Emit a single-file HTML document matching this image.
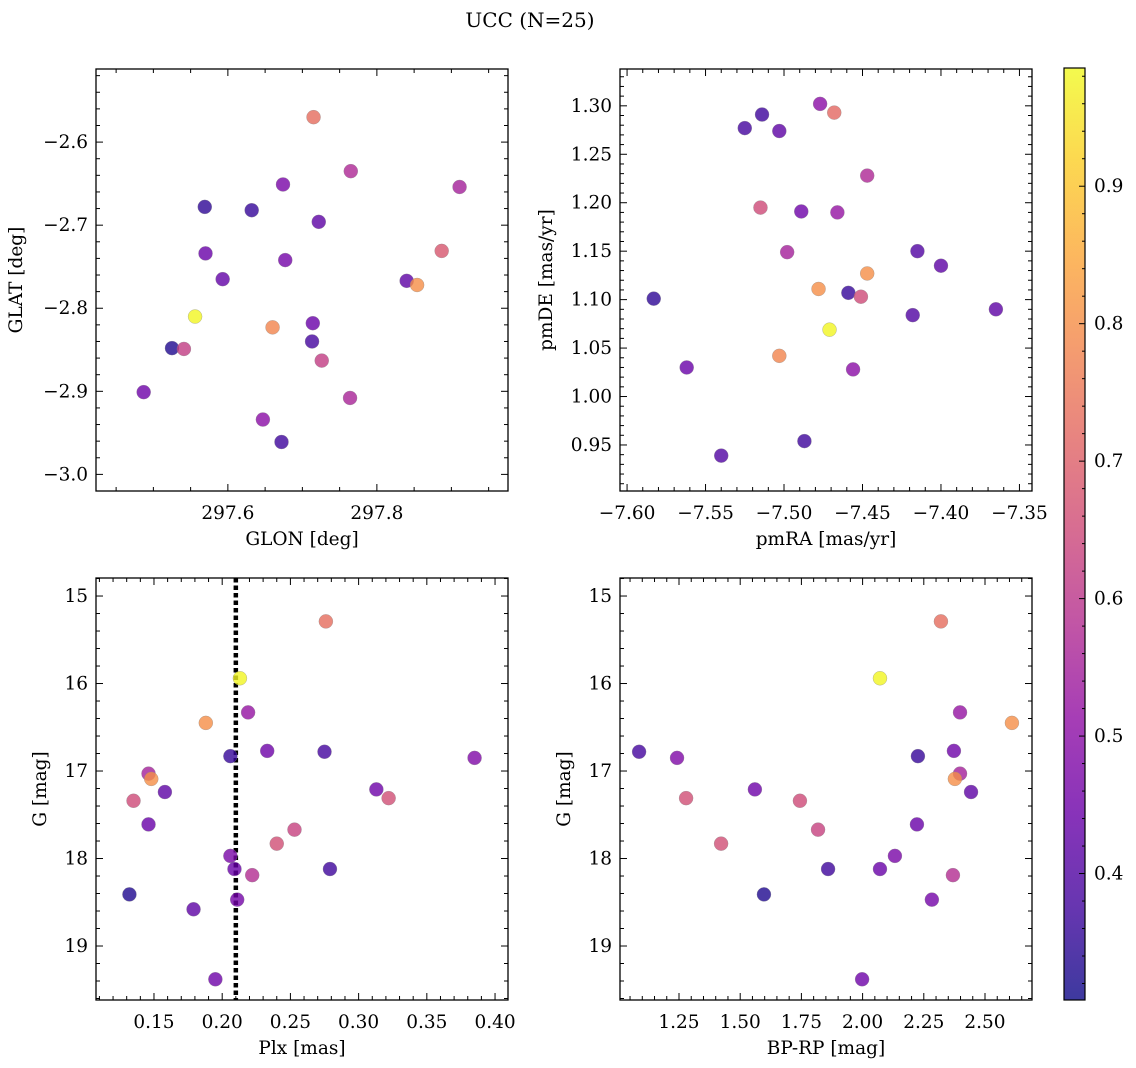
<!DOCTYPE html>
<html><head><meta charset="utf-8"><style>
body{margin:0;background:#fff}
svg{display:block;font-family:"DejaVu Serif","Liberation Serif",serif}
</style></head><body>
<svg id="fig" width="1136" height="1068" viewBox="0 0 1136 1068" xmlns="http://www.w3.org/2000/svg">
<defs>
<linearGradient id="plasma" x1="0" y1="1" x2="0" y2="0">
<stop offset="0" stop-color="#0d0887"/><stop offset="0.1" stop-color="#41049d"/><stop offset="0.2" stop-color="#6a00a8"/><stop offset="0.3" stop-color="#8f0da4"/><stop offset="0.4" stop-color="#b12a90"/><stop offset="0.5" stop-color="#cc4778"/><stop offset="0.6" stop-color="#e16462"/><stop offset="0.7" stop-color="#f2844b"/><stop offset="0.8" stop-color="#fca636"/><stop offset="0.9" stop-color="#fcce25"/><stop offset="1" stop-color="#f0f921"/>
</linearGradient>
</defs>
<text x="530" y="27" text-anchor="middle" font-size="20">UCC (N=25)</text>
</svg>
<script>
// ---- data ----
const glon = [297.715,297.765,297.911,297.674,297.569,297.632,297.722,297.570,297.677,297.593,297.887,297.840,297.854,297.556,297.660,297.714,297.525,297.541,297.713,297.726,297.487,297.764,297.647,297.672];
const glat = [-2.570,-2.635,-2.654,-2.651,-2.678,-2.682,-2.696,-2.734,-2.742,-2.765,-2.731,-2.767,-2.772,-2.810,-2.823,-2.818,-2.848,-2.849,-2.840,-2.863,-2.901,-2.908,-2.934,-2.961];
const probA = [0.73,0.57,0.55,0.47,0.35,0.36,0.42,0.44,0.46,0.43,0.68,0.42,0.80,0.98,0.78,0.44,0.33,0.62,0.38,0.62,0.45,0.56,0.50,0.37];
const pmra = [-7.477,-7.468,-7.525,-7.514,-7.503,-7.447,-7.515,-7.489,-7.466,-7.498,-7.415,-7.400,-7.447,-7.478,-7.459,-7.451,-7.583,-7.365,-7.418,-7.471,-7.503,-7.562,-7.456,-7.487,-7.540];
const pmde = [1.302,1.293,1.277,1.291,1.274,1.228,1.195,1.191,1.190,1.149,1.150,1.135,1.127,1.111,1.107,1.103,1.101,1.090,1.084,1.069,1.042,1.030,1.028,0.954,0.939];
const probB = [0.50,0.72,0.38,0.37,0.42,0.57,0.65,0.45,0.52,0.55,0.40,0.42,0.80,0.80,0.36,0.65,0.35,0.42,0.40,0.98,0.78,0.44,0.50,0.37,0.40];
const plx = [0.276,0.213,0.188,0.219,0.206,0.233,0.275,0.385,0.146,0.148,0.158,0.313,0.322,0.135,0.146,0.253,0.240,0.206,0.209,0.279,0.222,0.132,0.211,0.179,0.195];
const gmag = [15.29,15.94,16.45,16.33,16.83,16.77,16.78,16.85,17.03,17.09,17.24,17.21,17.31,17.34,17.61,17.67,17.83,17.97,18.12,18.12,18.19,18.41,18.47,18.58,19.38];
const probC = [0.73,0.98,0.80,0.52,0.36,0.45,0.38,0.48,0.55,0.80,0.42,0.45,0.66,0.65,0.44,0.63,0.66,0.47,0.44,0.37,0.58,0.33,0.46,0.42,0.45];
const bprp = [2.320,2.071,2.610,2.398,2.226,2.373,1.087,1.242,2.398,2.377,2.443,1.560,1.279,1.744,2.222,1.818,1.422,2.132,2.071,1.859,2.369,1.597,2.283,1.998];
const gmag4 = [15.29,15.94,16.45,16.33,16.83,16.77,16.78,16.85,17.03,17.09,17.24,17.21,17.31,17.34,17.61,17.67,17.83,17.97,18.12,18.12,18.19,18.41,18.47,19.38];
const probD = [0.73,0.98,0.80,0.52,0.36,0.45,0.38,0.48,0.55,0.80,0.42,0.45,0.66,0.65,0.44,0.63,0.66,0.47,0.44,0.37,0.58,0.33,0.46,0.45];
const plxLine = [0.210];
const cbTicks = [0.4,0.5,0.6,0.7,0.8,0.9];
const cMin = 0.308, cMax = 0.986;

const NS="http://www.w3.org/2000/svg";
const svg=document.getElementById('fig');
const FS=18.5;
function mk(tag,attrs,parent){const e=document.createElementNS(NS,tag);for(const k in attrs)e.setAttribute(k,attrs[k]);(parent||svg).appendChild(e);return e;}
const stops=[[13,8,135],[65,4,157],[106,0,168],[143,13,164],[177,42,144],[204,71,120],[225,100,98],[242,132,75],[252,166,54],[252,206,37],[240,249,33]];
function plasma(v){let t=(v-cMin)/(cMax-cMin);t=Math.max(0,Math.min(1,t));const f=t*10,i=Math.min(9,Math.floor(f)),r=f-i;const a=stops[i],b=stops[i+1];return 'rgb('+[0,1,2].map(k=>Math.round(a[k]+(b[k]-a[k])*r)).join(',')+')';}
function fmt(v,d){const s=Math.abs(v).toFixed(d);return (v<-1e-9?'\u2212':'')+s;}

function panel(o){
  const g=mk('g',{});
  
  
  const sx=v=>o.x0+(v-o.xmin)/(o.xmax-o.xmin)*(o.x1-o.x0);
  const sy=o.yinv?(v=>o.y0+(v-o.ymin)/(o.ymax-o.ymin)*(o.y1-o.y0)):(v=>o.y1-(v-o.ymin)/(o.ymax-o.ymin)*(o.y1-o.y0));
  const tk=mk('g',{stroke:'#000','stroke-width':1},g);
  
  
  for(let v=Math.ceil(o.xmin/o.xminor-1e-6)*o.xminor;v<=o.xmax+1e-9;v+=o.xminor){
    const px=sx(v);const major=Math.abs(v/o.xmajor-Math.round(v/o.xmajor))<1e-4;const L=major?7:4;
    mk('line',{x1:px,x2:px,y1:o.y1,y2:o.y1-L},tk);mk('line',{x1:px,x2:px,y1:o.y0,y2:o.y0+L},tk);
    if(major){const t=mk('text',{x:px,y:o.y1+28,'text-anchor':'middle','font-size':FS,stroke:'none'},g);t.textContent=fmt(v,o.xdec);
      
      }
  }
  const ylo=Math.min(o.ymin,o.ymax),yhi=Math.max(o.ymin,o.ymax);
  for(let v=Math.ceil(ylo/o.yminor-1e-6)*o.yminor;v<=yhi+1e-9;v+=o.yminor){
    const py=sy(v);const major=Math.abs(v/o.ymajor-Math.round(v/o.ymajor))<1e-4;const L=major?7:4;
    mk('line',{x1:o.x0,x2:o.x0+L,y1:py,y2:py},tk);mk('line',{x1:o.x1,x2:o.x1-L,y1:py,y2:py},tk);
    if(major){const t=mk('text',{x:o.x0-8,y:py+6,'text-anchor':'end','font-size':FS,stroke:'none'},g);t.textContent=fmt(v,o.ydec);
      
      }
  }
  const fr=mk('rect',{x:o.x0,y:o.y0,width:o.x1-o.x0,height:o.y1-o.y0,fill:'none',stroke:'#000','stroke-width':1.3},g);
  
  
  const xl=mk('text',{x:(o.x0+o.x1)/2,y:o.y1+54,'text-anchor':'middle','font-size':FS},g);xl.textContent=o.xlabel;
  
  
  const yl=mk('text',{x:o.ylx,y:(o.y0+o.y1)/2,'text-anchor':'middle','font-size':FS,transform:'rotate(-90 '+o.ylx+' '+((o.y0+o.y1)/2)+')'},g);yl.textContent=o.ylabel;
  
  
  if(o.vline){o.vline.forEach(v=>{const l=mk('line',{x1:sx(v),x2:sx(v),y1:o.y0,y2:o.y1,stroke:'#000','stroke-width':4.5,'stroke-dasharray':'4.5 3'},g);
    
    });}
  o.xs.forEach((v,i)=>{const c=mk('circle',{cx:sx(v),cy:sy(o.ys[i]),r:7,fill:plasma(o.cs[i]),'fill-opacity':0.8,stroke:'#888','stroke-width':0.5,'stroke-opacity':0.6},g);
    
    });
}
panel({name:'glon-glat-panel',x0:96,x1:508,y0:69,y1:491,xmin:297.423,xmax:297.976,ymin:-3.020,ymax:-2.512,xmajor:0.2,xminor:0.05,ymajor:0.1,yminor:0.02,xdec:1,ydec:1,xlabel:'GLON [deg]',ylabel:'GLAT [deg]',ylx:22,xs:glon,ys:glat,cs:probA});
panel({name:'pm-panel',x0:620,x1:1032,y0:69,y1:491,xmin:-7.6045,xmax:-7.342,ymin:0.9025,ymax:1.338,xmajor:0.05,xminor:0.01,ymajor:0.05,yminor:0.01,xdec:2,ydec:2,xlabel:'pmRA [mas/yr]',ylabel:'pmDE [mas/yr]',ylx:552,xs:pmra,ys:pmde,cs:probB});
panel({name:'plx-g-panel',x0:96,x1:508,y0:578,y1:1000,xmin:0.1075,xmax:0.4095,ymin:14.794,ymax:19.617,yinv:true,xmajor:0.05,xminor:0.01,ymajor:1,yminor:0.2,xdec:2,ydec:0,xlabel:'Plx [mas]',ylabel:'G [mag]',ylx:46,xs:plx,ys:gmag,cs:probC,vline:plxLine});
panel({name:'cmd-panel',x0:620,x1:1032,y0:578,y1:1000,xmin:1.009,xmax:2.692,ymin:14.794,ymax:19.617,yinv:true,xmajor:0.25,xminor:0.05,ymajor:1,yminor:0.2,xdec:2,ydec:0,xlabel:'BP-RP [mag]',ylabel:'G [mag]',ylx:570,xs:bprp,ys:gmag4,cs:probD});

const cb=mk('g',{});


const cbx=1064,cbw=21,cby0=68,cby1=1000;
mk('rect',{x:cbx,y:cby0,width:cbw,height:cby1-cby0,fill:'url(#plasma)','fill-opacity':0.8},cb);
mk('rect',{x:cbx,y:cby0,width:cbw,height:cby1-cby0,fill:'none',stroke:'#000','stroke-width':1.2},cb);
const cy=v=>cby1-(v-cMin)/(cMax-cMin)*(cby1-cby0);
for(let v=0.32;v<=cMax;v+=0.02){const p=cy(v);const major=Math.abs(v*10-Math.round(v*10))<1e-4;mk('line',{x1:cbx+cbw,x2:cbx+cbw-(major?6:3),y1:p,y2:p,stroke:'#000'},cb);}
cbTicks.forEach(v=>{const t=mk('text',{x:cbx+cbw+9,y:cy(v)+6,'font-size':FS},cb);t.textContent=v.toFixed(1);
  
  });
</script>
</body></html>
